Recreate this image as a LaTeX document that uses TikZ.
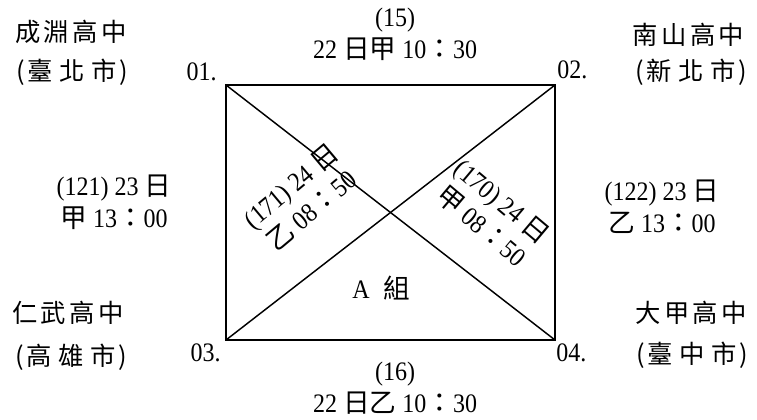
\documentclass[tikz,border=0pt]{standalone}
\usepackage{fontspec}
\setmainfont{Liberation Serif}[FakeStretch=0.9]
\newfontfamily\cjk{Noto Sans CJK TC}
\newfontfamily\cjkw[LetterSpace=13]{Noto Sans CJK TC}
\newfontfamily\cjkp[LetterSpace=26]{Noto Sans CJK TC}
\newcommand\zh[1]{{\cjk #1}}
\newcommand\city[1]{(\hspace{2pt}#1\hspace{2pt})}
\begin{document}
\begin{tikzpicture}[x=0.75pt,y=-0.75pt,
  lab/.style={inner sep=0pt, align=center, font=\fontsize{20}{24}\selectfont},
  school/.style={inner sep=0pt, font=\fontsize{19}{24}\selectfont\cjkw},
  cityname/.style={inner sep=0pt, font=\fontsize{19}{24}\selectfont\cjkp},
  frame/.style={line width=1.5pt},
  diag/.style={line width=1.1pt}]
\useasboundingbox (0,0) rectangle (757,420);
% corners
\coordinate (c1) at (226,85);
\coordinate (c2) at (555,85);
\coordinate (c3) at (226,340);
\coordinate (c4) at (555,340);
\draw[frame] (c1) -- (c2) -- (c4) -- (c3) -- cycle;
\draw[diag] (c1) -- (c4);
\draw[diag] (c3) -- (c2);
% corner numbers
\node[lab, anchor=east] (n1) at (217,72) {01.};
\node[lab, anchor=west] (n2) at (557,70) {02.};
\node[lab, anchor=east] (n3) at (221,353) {03.};
\node[lab, anchor=west] (n4) at (556,353) {04.};
% schools
\node[school] (s1) at (71,32) {成淵高中};
\node[cityname] (s1c) at (72.5,72) {\city{臺北市}};
\node[school] (s2) at (688.5,35) {南山高中};
\node[cityname] (s2c) at (691,72) {\city{新北市}};
\node[school] (s3) at (68,313) {仁武高中};
\node[cityname] (s3c) at (71,357) {\city{高雄市}};
\node[school] (s4) at (691,313) {大甲高中};
\node[cityname] (s4c) at (692,355) {\city{臺中市}};
% match labels
\node[lab] (m12) at (395,34) {(15)\\22 \zh{日甲} 10\zh{：}30};
\node[lab] (m34) at (395,388) {(16)\\22 \zh{日乙} 10\zh{：}30};
\node[lab] (m13) at (114,202) {(121) 23 \zh{日}\\\zh{甲} 13\zh{：}00};
\node[lab] (m24) at (662,207) {(122) 23 \zh{日}\\\zh{乙} 13\zh{：}00};
\node[lab, rotate=40] (m14) at (301,198) {(171) 24 \zh{日}\\\zh{乙} 08\zh{：}50};
\node[lab, rotate=-40] (m23) at (492,214) {(170) 24 \zh{日}\\\zh{甲} 08\zh{：}50};
\node[lab] (grp) at (381,288) {A\hspace{0.5em}\zh{組}};
\end{tikzpicture}
\end{document}
